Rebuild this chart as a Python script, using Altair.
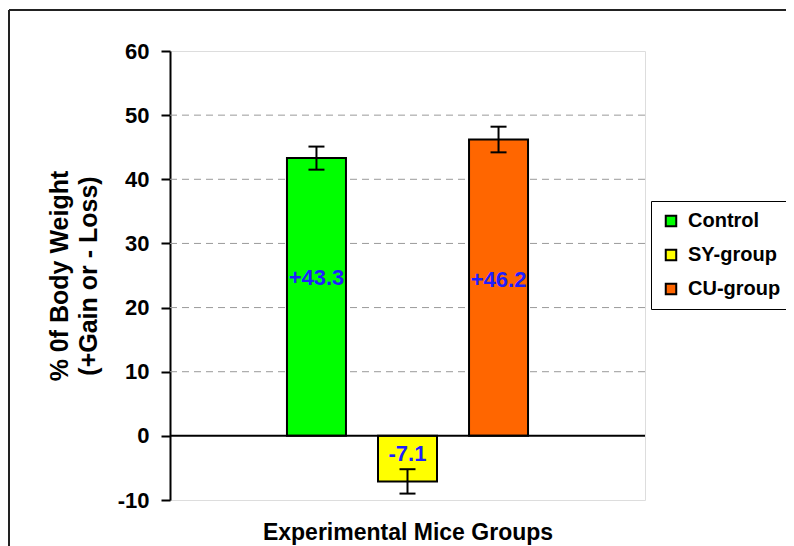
import altair as alt
import pandas as pd

groups = ["Control", "SY-group", "CU-group"]
positions = [1, 2, 3]
values = [43.3, -7.1, 46.2]
errors = [1.8, 1.9, 2.0]
label_text = ["+43.3", "-7.1", "+46.2"]
label_y = [24.6, -2.8, 24.3]
colors = ["#00FF00", "#FFFF00", "#FF6600"]
y_ticks = [-10, 0, 10, 20, 30, 40, 50, 60]
grid_values = [10, 20, 30, 40, 50]

df = pd.DataFrame({
    "group": groups,
    "pos": positions,
    "value": values,
    "lo": [v - e for v, e in zip(values, errors)],
    "hi": [v + e for v, e in zip(values, errors)],
    "label": label_text,
    "label_y": label_y,
})

FONT = "Liberation Sans"
xscale = alt.Scale(domain=[-0.554, 4.554], nice=False, zero=False)
yscale = alt.Scale(domain=[-10, 60], nice=False, zero=False)

grid = alt.Chart(pd.DataFrame({"g": grid_values})).mark_rule(
    color="#9A9A9A", strokeWidth=1, strokeDash=[7, 5]
).encode(y=alt.Y("g:Q", scale=yscale))

base = alt.Chart(df)

bars = base.mark_bar(size=59, stroke="black", strokeWidth=2).encode(
    x=alt.X("pos:Q", scale=xscale,
            axis=alt.Axis(labels=False, ticks=False, domain=False, grid=False,
                          title="Experimental Mice Groups", titleFont=FONT,
                          titleFontSize=23, titleFontWeight="bold", titleColor="black",
                          titlePadding=21)),
    y=alt.Y("value:Q", scale=yscale,
            axis=alt.Axis(values=y_ticks, grid=False, domainColor="black", domainWidth=2,
                          tickColor="black", tickWidth=2, tickSize=9,
                          labelExpr="'' + datum.value",
                          labelFont=FONT, labelFontSize=22, labelFontWeight="bold",
                          labelColor="black", labelPadding=12,
                          title=["% 0f Body Weight", "(+Gain or - Loss)"],
                          titleFont=FONT, titleFontSize=25, titleFontWeight="bold",
                          titleColor="black", titleLineHeight=29, titlePadding=16)),
    y2=alt.Y2(datum=0),
    color=alt.Color("group:N", scale=alt.Scale(domain=groups, range=colors),
                    legend=alt.Legend(title=None, orient="none", legendX=481, legendY=150,
                                      symbolType="square", symbolSize=110,
                                      symbolStrokeColor="black", symbolStrokeWidth=2,
                                      labelFont=FONT, labelFontSize=20, labelFontWeight="bold",
                                      labelColor="black", labelOffset=7,
                                      rowPadding=14, padding=10,
                                      strokeColor="black", fillColor="white")),
)

zero = alt.Chart(pd.DataFrame({"z": [0]})).mark_rule(color="black", strokeWidth=2).encode(
    y=alt.Y("z:Q", scale=yscale)
)

err = base.mark_rule(color="black", strokeWidth=2).encode(
    x=alt.X("pos:Q", scale=xscale), y=alt.Y("lo:Q", scale=yscale), y2="hi:Q"
)
cap_hi = base.mark_rule(color="black", strokeWidth=2, xOffset=-8, x2Offset=8).encode(
    x=alt.X("pos:Q", scale=xscale), x2="pos:Q", y=alt.Y("hi:Q", scale=yscale)
)
cap_lo = base.mark_rule(color="black", strokeWidth=2, xOffset=-8, x2Offset=8).encode(
    x=alt.X("pos:Q", scale=xscale), x2="pos:Q", y=alt.Y("lo:Q", scale=yscale)
)

labels = base.mark_text(font=FONT, fontSize=22, fontWeight="bold", color="#1E1EFF",
                        align="center", baseline="middle").encode(
    x=alt.X("pos:Q", scale=xscale), y=alt.Y("label_y:Q", scale=yscale), text="label:N"
)

frame_df = pd.DataFrame({"a": [0]})
frame_left = alt.Chart(frame_df).mark_rule(color="#222222", strokeWidth=2).encode(
    x=alt.value(-161), y=alt.value(-41), y2=alt.value(510)
)
frame_top = alt.Chart(frame_df).mark_rule(color="#222222", strokeWidth=2).encode(
    x=alt.value(-161), x2=alt.value(640), y=alt.value(-41)
)

chart = alt.layer(grid, bars, zero, err, cap_hi, cap_lo, labels, frame_left, frame_top).properties(
    width=475, height=449,
    autosize=alt.AutoSizeParams(type="none"),
    padding={"left": 162, "top": 43, "right": 141, "bottom": 46},
).configure_view(
    fill="#FCF0D9", stroke="#8C8C8C", strokeWidth=2
).configure(background="white")

chart.save("out.html", embed_options={"renderer": "svg", "actions": False})
